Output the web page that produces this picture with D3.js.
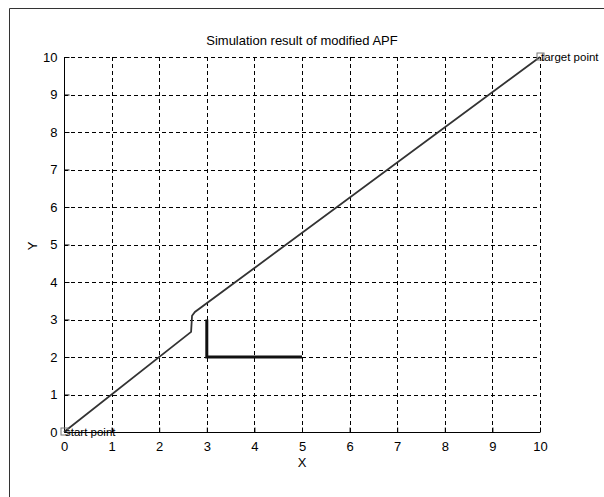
<!DOCTYPE html>
<html><head><meta charset="utf-8">
<script src="https://cdn.jsdelivr.net/npm/d3@7"></script>
<style>body{margin:0;background:#fff}svg{display:block;font-family:"Liberation Sans",Arial,sans-serif}</style>
</head><body><svg id="c" width="604" height="497"></svg>
<script>
const titleText = "Simulation result of modified APF";
const xTicks = [0,1,2,3,4,5,6,7,8,9,10];
const yTicks = [0,1,2,3,4,5,6,7,8,9,10];
const pathX = [0, 2.67, 2.69, 2.75, 10];
const pathY = [0, 2.67, 3.1, 3.2, 10];
const obstacleX = [3, 3, 5];
const obstacleY = [3, 2, 2];
const markerLabels = [{x:0,y:0,t:"start point"},{x:10,y:10,t:"target point"}];

const svg = d3.select("#c");
const m = {l:64, r:540, t:57, b:432};
const x = d3.scaleLinear().domain([0,10]).range([m.l, m.r]);
const y = d3.scaleLinear().domain([0,10]).range([m.b, m.t]);

svg.append("path").attr("d","M9.5,497 V8.5 H604").attr("fill","none").attr("stroke","#333").attr("stroke-width",1);

const g = svg.append("g");
g.selectAll(".gx").data(xTicks.filter(d=>d>0)).join("line")
  .attr("x1",d=>Math.round(x(d))+0.5).attr("x2",d=>Math.round(x(d))+0.5).attr("y1",m.t).attr("y2",m.b)
  .attr("stroke","#000").attr("stroke-dasharray","4,3").attr("stroke-width",1);
g.selectAll(".gy").data(yTicks.filter(d=>d>0)).join("line")
  .attr("y1",d=>Math.round(y(d))+0.5).attr("y2",d=>Math.round(y(d))+0.5).attr("x1",m.l).attr("x2",m.r)
  .attr("stroke","#000").attr("stroke-dasharray","4,3").attr("stroke-width",1);

const xa = svg.append("g").attr("transform",`translate(0,${m.b+0.5})`)
  .call(d3.axisBottom(x).tickValues(xTicks).tickSize(-5).tickPadding(9).tickFormat(d3.format("d")));
const ya = svg.append("g").attr("transform",`translate(${m.l+0.5},0)`)
  .call(d3.axisLeft(y).tickValues(yTicks).tickSize(-5).tickPadding(7).tickFormat(d3.format("d")));
[xa,ya].forEach(a=>{
  a.select(".domain").attr("stroke","#000").attr("d", a===xa ? `M${m.l},0H${m.r}` : `M0,${m.b}V${m.t}`);
  a.selectAll("text").attr("font-size",13).attr("fill","#000").attr("font-family","Liberation Sans, Arial, sans-serif");
  a.selectAll(".tick line").attr("stroke","#000");
});

const pts = pathX.map((d,i)=>[x(d), y(pathY[i])]);
svg.append("path").attr("d", d3.line()(pts)).attr("fill","none").attr("stroke","#333").attr("stroke-width",1.8);

const ob = obstacleX.map((d,i)=>[x(d), y(obstacleY[i])]);
svg.append("path").attr("d", d3.line()(ob)).attr("fill","none").attr("stroke","#111").attr("stroke-width",3);

markerLabels.forEach(p=>{
  svg.append("rect").attr("x",x(p.x)-3).attr("y",y(p.y)-4).attr("width",7).attr("height",7)
    .attr("fill","none").attr("stroke","#777").attr("stroke-width",1);
  svg.append("text").attr("x",x(p.x)+1).attr("y",y(p.y)+4).attr("font-size",11.5).attr("fill","#000").text(p.t);
});

svg.append("text").attr("x",302).attr("y",45).attr("text-anchor","middle").attr("font-size",13).text(titleText);
svg.append("text").attr("x",302).attr("y",467).attr("text-anchor","middle").attr("font-size",13).text("X");
svg.append("text").attr("transform","translate(37,246) rotate(-90)").attr("text-anchor","middle").attr("font-size",13).text("Y");
</script></body></html>
